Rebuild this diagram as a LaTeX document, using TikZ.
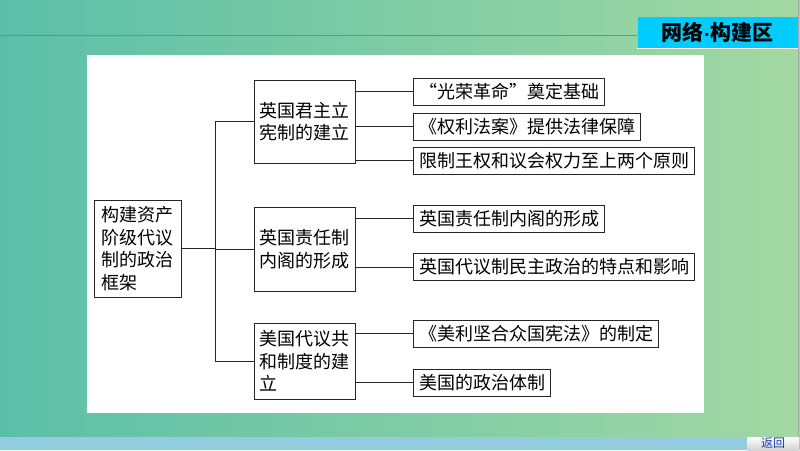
\documentclass[tikz,border=0pt]{standalone}
\usepackage{fontspec}
\setmainfont{Noto Sans CJK SC}
\newfontfamily\dotfont{DejaVu Sans}
\usepackage{tikz}
\usepackage{xcolor}
\usetikzlibrary{positioning,calc}

\definecolor{bgleft}{RGB}{91,191,168}
\definecolor{bgright}{RGB}{163,216,163}
\definecolor{stripblue}{RGB}{146,204,222}
\definecolor{titlecyan}{RGB}{0,204,255}
\definecolor{rulecol}{RGB}{72,155,170}
\definecolor{backblue}{RGB}{30,60,170}

\tikzset{
  box/.style={draw=black!85, line width=1pt, fill=white, align=left,
    font=\fontsize{18}{22.5}\selectfont, inner xsep=5.5pt, inner ysep=2pt},
  topic/.style={box, text width=90pt},
  leaf/.style={box, anchor=west, minimum height=27pt},
  link/.style={draw=black!85, line width=1pt}
}

\begin{document}
\begin{tikzpicture}[x=1pt, y=-1pt]
        \useasboundingbox (0,0) rectangle (800,450);
        % slide background
        \shade[left color=bgleft, right color=bgright] (0,0) rectangle (800,437);
        \fill[stripblue] (0,437) rectangle (800,450);
        \draw[gray!70, line width=0.8pt] (798.5,0) -- (798.5,437);
        \node[fill=titlecyan, minimum width=160pt, minimum height=32pt, inner sep=0pt,
              font=\fontsize{21}{21}\selectfont\bfseries] (title) at (717.5,32.5)
              {网络{\dotfont\fontsize{16}{16}\selectfont·}构建区};
        \draw[white, line width=1.5pt] (title.south west) -- (title.south east);
        \draw[rulecol, line width=0.8pt] (0,35) -- (title.west |- 0,35);
        \node[top color=white, bottom color=gray!35, minimum width=52pt, minimum height=13pt,
              inner sep=0pt, text=backblue, font=\fontsize{12}{12}\selectfont] (back) at (773,443.5) {返回};
        \fill[white] (87,55) rectangle (704,413);
        % root and the three topics
        \node[box, text width=72pt, inner xsep=7.5pt, minimum height=97pt] (root) at (137.5,248.5)
            {构建资产\\阶级代议\\制的政治\\框架};
        \node[topic, minimum height=83pt] (gb1) at (304.5,121.5) {英国君主立\\宪制的建立};
        \node[topic, minimum height=84pt] (gb2) at (304.5,249) {英国责任制\\内阁的形成};
        \node[topic, minimum height=76pt] (us) at (304.5,361) {美国代议共\\和制度的建\\立};
        % trunk
        \coordinate (tk) at (215,0);
        \draw[link] (root.east) -- (root.east -| tk);
        \draw[link] (gb1.west) -- (gb1.west -| tk) -- (us.west -| tk) -- (us.west);
        \draw[link] (gb2.west) -- (gb2.west -| tk);
        % leaves
        \foreach \y/\p/\n/\txt in {91.5/gb1/a1/{“光荣革命”奠定基础},
                                  126.5/gb1/a2/{《权利法案》提供法律保障},
                                  160.5/gb1/a3/{限制王权和议会权力至上两个原则},
                                  218.5/gb2/b1/{英国责任制内阁的形成},
                                  267/gb2/b2/{英国代议制民主政治的特点和影响},
                                  333.5/us/c1/{《美利坚合众国宪法》的制定},
                                  382.5/us/c2/{美国的政治体制}}
        {
            \node[leaf] (\n) at (413,\y) {\txt};
            \draw[link] (\n.west) -- (\n.west -| \p.east);
        }
    \end{tikzpicture}
\end{document}
